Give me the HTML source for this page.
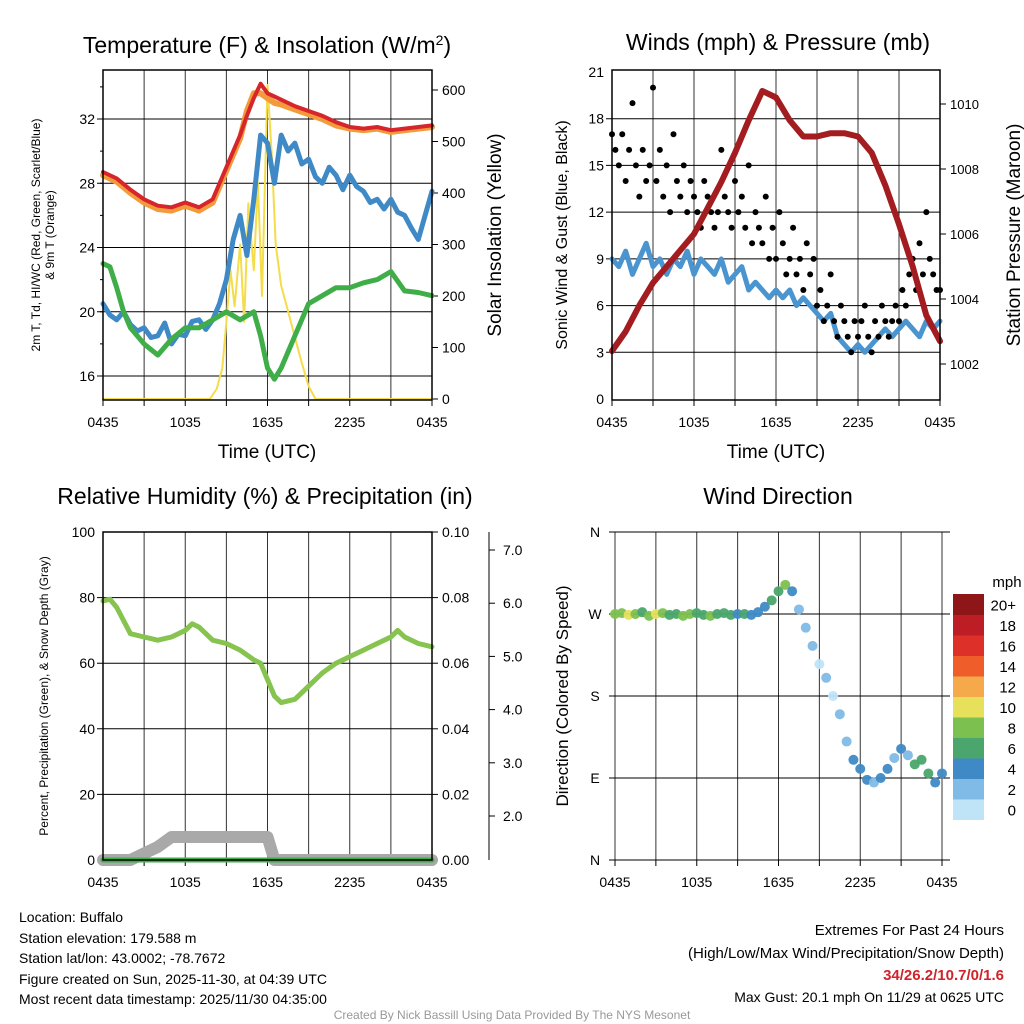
<!DOCTYPE html>
<html><head><meta charset="utf-8"><style>
body{margin:0;background:#fff;}
svg{display:block;font-family:"Liberation Sans",Arial,sans-serif;}
</style></head><body>
<svg id="s" width="1024" height="1024" viewBox="0 0 1024 1024" xmlns="http://www.w3.org/2000/svg">
<g id="g"></g>
<text x="19" y="922" font-size="14">Location: Buffalo</text>
<text x="19" y="943" font-size="14">Station elevation: 179.588 m</text>
<text x="19" y="963" font-size="14">Station lat/lon: 43.0002; -78.7672</text>
<text x="19" y="984" font-size="14">Figure created on Sun, 2025-11-30, at 04:39 UTC</text>
<text x="19" y="1004" font-size="14">Most recent data timestamp: 2025/11/30 04:35:00</text>
<text x="1004" y="935" font-size="15" text-anchor="end">Extremes For Past 24 Hours</text>
<text x="1004" y="958" font-size="15" text-anchor="end">(High/Low/Max Wind/Precipitation/Snow Depth)</text>
<text x="1004" y="980" font-size="15" font-weight="bold" fill="#d0232a" text-anchor="end">34/26.2/10.7/0/1.6</text>
<text x="1004" y="1002" font-size="14" text-anchor="end">Max Gust: 20.1 mph On 11/29 at 0625 UTC</text>
<text x="512" y="1019" font-size="12" fill="#999" text-anchor="middle">Created By Nick Bassill Using Data Provided By The NYS Mesonet</text>
</svg>
<script>
// ---- data (hours since 0435 UTC) ----
const xTickLabels=["0435","1035","1635","2235","0435"];
const tTimes=[0,1,2,3,4,5,6,7,8,9,10,10.5,11,11.5,12,12.5,13,14,15,16,17,18,19,20,21,22,23,24];
const tempVals=[28.7,28.3,27.6,27.0,26.6,26.5,26.8,26.5,27.0,29.0,31.0,32.2,33.3,34.2,33.6,33.4,33.2,32.8,32.5,32.2,31.8,31.5,31.4,31.5,31.3,31.4,31.5,31.6];
const temp9Vals=[28.5,28.1,27.4,26.8,26.4,26.3,26.6,26.3,26.8,28.8,30.8,32.5,33.6,33.6,33.3,33.0,32.9,32.6,32.3,32.0,31.6,31.4,31.3,31.4,31.2,31.3,31.4,31.5];
const dTimes=[0,0.5,1,1.5,2,3,4,5,6,7,8,9,10,11,11.5,12,12.5,13,14,15,16,17,18,19,20,21,22,23,24];
const dewVals=[23.0,22.8,21.5,20.0,19.0,18.0,17.3,18.3,19.0,19.0,19.5,20.0,19.5,20.0,18.5,16.5,15.8,16.5,18.5,20.5,21.0,21.5,21.5,21.8,22.0,22.5,21.3,21.2,21.0];
const wcTimes=[0,0.5,1,1.5,2,2.5,3,3.5,4,4.5,5,5.5,6,6.5,7,7.5,8,8.5,9,9.5,10,10.5,11,11.5,12,12.5,13,13.5,14,14.5,15,15.5,16,16.5,17,17.5,18,18.5,19,19.5,20,20.5,21,21.5,22,22.5,23,23.5,24];
const wcVals=[20.5,19.8,19.5,20.0,19.2,18.8,19.0,18.4,18.5,19.3,18.0,18.6,18.5,19.4,19.5,18.9,19.5,20.5,22.0,24.5,26.0,23.5,27.0,31.0,30.5,28.0,31.0,30.0,30.5,29.2,29.5,28.4,28.0,29.0,28.5,27.6,28.5,27.8,27.5,26.8,27.0,26.4,27.0,26.2,26.0,25.2,24.5,26.0,27.5];
const solTimes=[0,7.8,8.3,8.7,9.0,9.3,9.6,10.0,10.3,10.6,11.0,11.3,11.6,12.0,12.3,12.6,13.0,13.5,14.0,14.5,15.0,15.5,24];
const solVals=[0,0,20,60,150,250,180,300,150,380,250,420,200,610,480,300,220,170,120,70,25,0,0];
const leftTempTicks=[16,20,24,28,32];
const solTicks=[0,100,200,300,400,500,600];
const windTicks=[0,3,6,9,12,15,18,21];
const presTicks=[1002,1004,1006,1008,1010];
const sustVals=[9,8.5,9.5,8,9,10,8.5,9,8,9,8.5,9.5,8,9,8.5,8,9,7.5,8,8.5,7,7.5,7,6.5,7,6.5,7,6,6.5,6,5.5,5,5.5,4,3.5,3,3.5,3,3.5,4,4.5,4,4.5,5,4.5,4,5,4.5,5];
const gustVals=[17,16,15,17,14,16,19,15,13,16,14,15,20,14,16,13,15,12,17,14,13,15,12,14,13,12,11,14,13,12,11,12,16,13,12,11,14,12,13,11,15,10,12,11,10,13,9,11,9,12,10,8,9,11,8,9,7,10,8,9,6,7,5,6,8,5,4,6,5,4,3,5,4,5,6,4,3,5,4,6,5,4,5,6,5,7,6,8,9,7,10,8,12,9,8,7,7];
const presTimes=[0,1,2,3,4,5,6,7,8,9,10,11,12,13,14,15,16,17,18,19,20,21,22,23,24];
const presVals=[1002.4,1003.0,1003.8,1004.5,1005.0,1005.5,1006.0,1006.8,1007.6,1008.5,1009.5,1010.4,1010.2,1009.5,1009.0,1009.0,1009.1,1009.1,1009.0,1008.5,1007.5,1006.3,1005.0,1003.5,1002.7];
const rhTimes=[0,0.5,1,1.5,2,3,4,5,6,6.5,7,8,9,10,11,11.5,12,12.5,13,14,15,16,17,18,19,20,21,21.5,22,23,24];
const rhVals=[79,79.5,77,73,69,68,67,68,70,72,71,67,66,64,61,60,55,50,48,49,53,57,60,62,64,66,68,70,68,66,65];
const rhTicks=[0,20,40,60,80,100];
const prTicks=["0.00","0.02","0.04","0.06","0.08","0.10"];
const snowTicks=[2,3,4,5,6,7];
const precipVals=[0,0];
const snowTimes=[0,2,3,4,5,12,12.5,13,24];
const snowVals=[0,0,0.002,0.004,0.007,0.007,0,0,0];
const dirVals=[270,271,269,270,272,268,270,271,269,270,268,270,271,269,268,270,271,269,270,270,269,272,278,285,295,302,295,275,255,235,215,200,180,160,130,110,100,88,85,90,100,112,122,115,105,110,95,85,95];
const dirSpd=[8,9,10,8,7,9,10,8,6,7,8,9,7,6,8,7,6,7,5,6,5,4,5,6,7,8,5,3,2,2,1,2,1,3,3,4,4,4,3,4,4,3,4,3,6,7,6,5,4];
const dirTicks=["N","E","S","W","N"];
const cbLabels=["0","2","4","6","8","10","12","14","16","18","20+"];
const cbColors=["#bfe4f8","#7fbbe6","#3f8ac6","#4aa66c","#7cc04f","#e6e05a","#f6a94a","#ef5d2b","#dd3028","#bd1d24","#8e1619"];

const NS="http://www.w3.org/2000/svg";
const G=document.getElementById('g');
function mk(tag,attrs,name,parent){const e=document.createElementNS(NS,tag);for(const k in attrs)e.setAttribute(k,attrs[k]);


(parent||G).appendChild(e);return e;}
function txt(x,y,s,size,anchor,name,extra){const e=mk('text',Object.assign({x:x,y:y,'font-size':size,'text-anchor':anchor||'start'},extra||{}),name);e.textContent=s;return e;}
function lin(d0,d1,r0,r1){return v=>r0+(v-d0)/(d1-d0)*(r1-r0);}
function path(xs,ys,fx,fy,attrs,name){let d='';xs.forEach((t,i)=>{d+=(i?'L':'M')+fx(t).toFixed(1)+','+fy(ys[i]).toFixed(1);});return mk('path',Object.assign({d:d,fill:'none','stroke-linejoin':'round','stroke-linecap':'round'},attrs),name);}

function frame(L,R,T,B,hy,fy,name){
  const fx=lin(0,24,L,R);
  for(let h=0;h<=24;h+=3){mk('line',{x1:fx(h),x2:fx(h),y1:T,y2:B,stroke:'#333','stroke-width':1},name+'-vgrid');
    mk('line',{x1:fx(h),x2:fx(h),y1:B,y2:B+6,stroke:'#000','stroke-width':1},name+'-xtick');}
  hy.forEach(v=>mk('line',{x1:L-6,x2:R+(name==='dir'?8:0),y1:fy(v),y2:fy(v),stroke:'#000','stroke-width':1},name+'-hgrid'));
  xTickLabels.forEach((s,i)=>txt(fx(i*6),B+27,s,14,'middle',name+'-x-tick-label'));
  return fx;
}
function box(L,R,T,B,name){mk('rect',{x:L,y:T,width:R-L,height:B-T,fill:'none',stroke:'#000','stroke-width':1.5},name+'-border');}

// ===== Panel 1: temperature =====
(function(){
 const L=103,R=432,T=70,B=400;
 const fy=lin(16,32,376,119), fs=lin(0,600,399,90);
 const fx=frame(L,R,T,B,leftTempTicks,fy,'temp');
 leftTempTicks.forEach(v=>txt(L-8,fy(v)+5,String(v),14,'end','temp-y-tick-label'));
 for(let v=16;v<=34;v+=2)mk('line',{x1:L-3,x2:L,y1:fy(v),y2:fy(v),stroke:'#000'},'temp-minor-tick');
 solTicks.forEach(v=>{mk('line',{x1:R,x2:R+6,y1:fs(v),y2:fs(v),stroke:'#000'},'sol-tick');txt(R+10,fs(v)+5,String(v),14,'start','sol-tick-label');});
 path(solTimes,solVals,fx,fs,{stroke:'#f4dc4a','stroke-width':2},'solar-line');
 path(wcTimes,wcVals,fx,fy,{stroke:'#3f8ac6','stroke-width':5},'windchill-line');
 path(dTimes,dewVals,fx,fy,{stroke:'#3fae49','stroke-width':5},'dewpoint-line');
 path(tTimes,temp9Vals,fx,fy,{stroke:'#f39a3a','stroke-width':6},'temp9m-line');
 path(tTimes,tempVals,fx,fy,{stroke:'#d7262b','stroke-width':4},'temp2m-line');
 box(L,R,T,B,'temp');
 const t=txt(267,53,'Temperature (F) & Insolation (W/m',23,'middle','temp-title');
 const sp=document.createElementNS(NS,'tspan');sp.setAttribute('dy','-8');sp.setAttribute('font-size','14');sp.textContent='2';t.appendChild(sp);
 const sp2=document.createElementNS(NS,'tspan');sp2.setAttribute('dy','8');sp2.textContent=')';t.appendChild(sp2);
 txt(267,458,'Time (UTC)',19,'middle','temp-x-title');
 txt(0,0,'2m T, T\u0064, HI/WC (Red, Green, Scarlet/Blue)',12,'middle','temp-y-title',{transform:'translate(40,235) rotate(-90)'});
 txt(0,0,'& 9m T (Orange)',12,'middle','temp-y-title-2',{transform:'translate(54,235) rotate(-90)'});
 txt(0,0,'Solar Insolation (Yellow)',19,'middle','solar-y-title',{transform:'translate(501,235) rotate(-90)'});
})();

// ===== Panel 2: winds =====
(function(){
 const L=612,R=940,T=70,B=400;
 const fy=lin(0,21,399,72), fp=lin(1002,1010,364,104);
 const fx=frame(L,R,T,B,windTicks.slice(1,-1),fy,'wind');
 windTicks.forEach(v=>txt(L-8,fy(v)+5,String(v),14,'end','wind-y-tick-label'));
 presTicks.forEach(v=>{mk('line',{x1:R,x2:R+6,y1:fp(v),y2:fp(v),stroke:'#000'},'pres-tick');txt(R+10,fp(v)+5,String(v),13,'start','pres-tick-label');});
 const st=sustVals.map((v,i)=>i*0.5);
 path(st,sustVals,fx,fy,{stroke:'#4a94d0','stroke-width':5},'sustained-wind-line');
 gustVals.forEach((v,i)=>mk('circle',{cx:fx(i*0.25),cy:fy(v),r:3,fill:'#000'},'gust-dot'));
 path(presTimes,presVals,fx,fp,{stroke:'#a31c20','stroke-width':6},'pressure-line');
 box(L,R,T,B,'wind');
 txt(778,50,'Winds (mph) & Pressure (mb)',23,'middle','wind-title');
 txt(776,458,'Time (UTC)',19,'middle','wind-x-title');
 txt(0,0,'Sonic Wind & Gust (Blue, Black)',16,'middle','wind-y-title',{transform:'translate(567,235) rotate(-90)'});
 txt(0,0,'Station Pressure (Maroon)',19,'middle','pres-y-title',{transform:'translate(1020,235) rotate(-90)'});
})();

// ===== Panel 3: RH =====
(function(){
 const L=103,R=432,T=532,B=860;
 const fy=lin(0,100,860,532), fpr=lin(0,0.1,860,532), fsn=lin(2,7,816,550);
 const fx=frame(L,R,T,B,[20,40,60,80],fy,'rh');
 rhTicks.forEach(v=>txt(L-8,fy(v)+5,String(v),14,'end','rh-y-tick-label'));
 prTicks.forEach((s,i)=>{const y=fpr(i*0.02);mk('line',{x1:R,x2:R+6,y1:y,y2:y,stroke:'#000'},'precip-tick');txt(R+10,y+5,s,14,'start','precip-tick-label');});
 mk('line',{x1:489,x2:489,y1:532,y2:860,stroke:'#000'},'snow-axis');
 snowTicks.forEach(v=>{mk('line',{x1:489,x2:495,y1:fsn(v),y2:fsn(v),stroke:'#000'},'snow-tick');txt(503,fsn(v)+5,v.toFixed(1),14,'start','snow-tick-label');});
 path(snowTimes,snowVals,fx,fpr,{stroke:'#a9a9a9','stroke-width':12},'snow-depth-line');
 path([0,24],precipVals,fx,fpr,{stroke:'#3fae49','stroke-width':5},'precip-line');
 path(rhTimes,rhVals,fx,fy,{stroke:'#86c34f','stroke-width':5},'rh-line');
 box(L,R,T,B,'rh');
 txt(265,504,'Relative Humidity (%) & Precipitation (in)',23,'middle','rh-title');
 txt(0,0,'Percent, Precipitation (Green), & Snow Depth (Gray)',12,'middle','rh-y-title',{transform:'translate(48,696) rotate(-90)'});
})();

// ===== Panel 4: wind direction =====
(function(){
 const L=615,R=942,T=532,B=860;
 const fy=lin(0,360,860,532);
 const fx=frame(L,R,T,B,[0,90,180,270,360],fy,'dir');
 dirTicks.forEach((s,i)=>txt(L-20,fy(i*90)+5,s,14,'middle','dir-y-tick-label'));
 dirVals.forEach((v,i)=>{const b=Math.min(10,Math.floor(dirSpd[i]/2));
   mk('circle',{cx:fx(i*0.5),cy:fy(v),r:5,fill:cbColors[b],opacity:0.95},'direction-dot');});
 txt(778,504,'Wind Direction',23,'middle','dir-title');
 txt(0,0,'Direction (Colored By Speed)',17,'middle','dir-y-title',{transform:'translate(568,696) rotate(-90)'});
 const top=594,h=20.5;
 txt(1007,587,'mph',15,'middle','colorbar-title');
 cbLabels.forEach((s,i)=>{const y=top+(10-i)*h;mk('rect',{x:953,y:y,width:31,height:h+0.5,fill:cbColors[i]},'colorbar-box');
   txt(1016,y+h/2+6,s,15,'end','colorbar-label');});
})();
</script>
</body></html>
